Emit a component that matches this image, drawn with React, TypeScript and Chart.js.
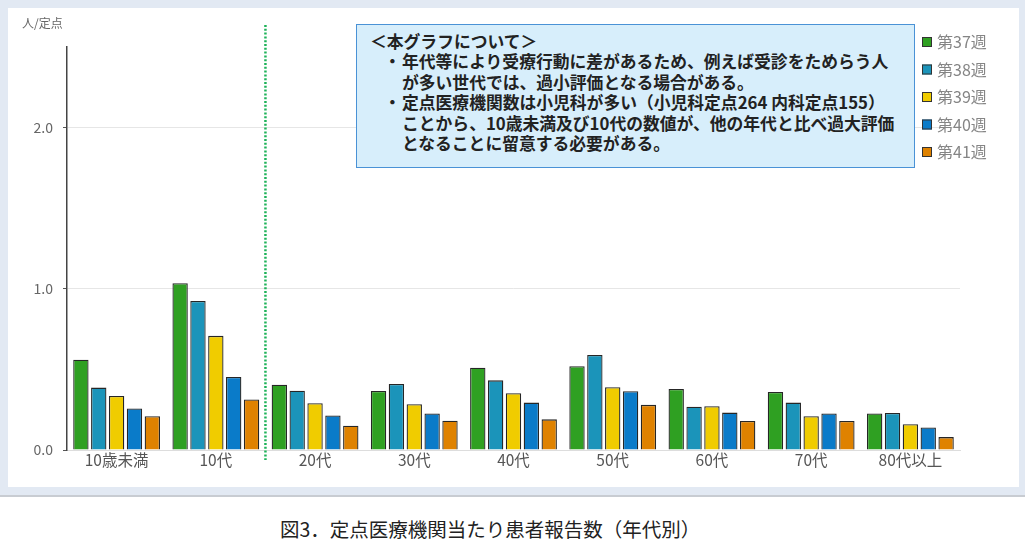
import { useEffect, useRef } from "react";
import { Chart, registerables, Plugin } from "chart.js";

Chart.register(...registerables);

document.body.style.margin = "0";

const FONT = "'Noto Sans CJK JP', 'Noto Sans', sans-serif";

const ageGroups = ["10歳未満", "10代", "20代", "30代", "40代", "50代", "60代", "70代", "80代以上"];
const weekLabels = ["第37週", "第38週", "第39週", "第40週", "第41週"];
const week37 = [0.56, 1.035, 0.405, 0.366, 0.51, 0.52, 0.378, 0.36, 0.226];
const week38 = [0.387, 0.924, 0.368, 0.41, 0.432, 0.59, 0.268, 0.294, 0.23];
const week39 = [0.335, 0.708, 0.29, 0.284, 0.352, 0.39, 0.272, 0.21, 0.16];
const week40 = [0.257, 0.453, 0.214, 0.226, 0.294, 0.365, 0.232, 0.226, 0.14];
const week41 = [0.21, 0.313, 0.15, 0.181, 0.19, 0.28, 0.18, 0.18, 0.08];
const weekColors = ["#2fa022", "#1b94ba", "#f0cc00", "#0a7bc9", "#df8200"];

const noteLines = [
  { bullet: false, text: "＜本グラフについて＞" },
  { bullet: true, text: "年代等により受療行動に差があるため、例えば受診をためらう人" },
  { bullet: false, text: "が多い世代では、過小評価となる場合がある。" },
  { bullet: true, text: "定点医療機関数は小児科が多い（小児科定点264 内科定点155）" },
  { bullet: false, text: "ことから、10歳未満及び10代の数値が、他の年代と比べ過大評価" },
  { bullet: false, text: "となることに留意する必要がある。" },
];

// dotted divider between 10代 and 20代, unit label and right-hand legend
const extrasPlugin: Plugin<"bar"> = {
  id: "extras",
  afterDraw(chart) {
    const { ctx } = chart;
    const x = chart.scales.x;
    const divX = (x.getPixelForValue(1) + x.getPixelForValue(2)) / 2;
    ctx.save();
    ctx.strokeStyle = "#1fb35a";
    ctx.lineWidth = 2.5;
    ctx.setLineDash([2, 1.8]);
    ctx.beginPath();
    ctx.moveTo(divX, 17);
    ctx.lineTo(divX, 452);
    ctx.stroke();
    ctx.setLineDash([]);

    ctx.fillStyle = "#666";
    ctx.font = `12px ${FONT}`;
    ctx.textBaseline = "middle";
    ctx.fillText("人/定点", 14, 15);

    ctx.font = `16px ${FONT}`;
    weekLabels.forEach((label, i) => {
      const cy = 34 + i * 27.5;
      ctx.fillStyle = weekColors[i];
      ctx.fillRect(914, cy - 5, 10, 10);
      ctx.strokeStyle = "#333";
      ctx.lineWidth = 1;
      ctx.strokeRect(914.5, cy - 4.5, 9, 9);
      ctx.fillStyle = "#858585";
      ctx.fillText(label, 929, cy);
    });
    ctx.restore();
  },
};

function BarChart() {
  const canvasRef = useRef<HTMLCanvasElement | null>(null);

  useEffect(() => {
    if (!canvasRef.current) return;
    const series = [week37, week38, week39, week40, week41];
    const chart = new Chart(canvasRef.current, {
      type: "bar",
      data: {
        labels: ageGroups,
        datasets: series.map((values, i) => ({
          label: weekLabels[i],
          data: values,
          backgroundColor: weekColors[i],
          borderColor: "#262626",
          borderWidth: 1.3,
          categoryPercentage: 0.9,
          barPercentage: 0.86,
        })),
      },
      options: {
        animation: false,
        responsive: true,
        maintainAspectRatio: false,
        layout: { padding: { top: 39, right: 59, left: 0, bottom: 0 } },
        plugins: { legend: { display: false }, tooltip: { enabled: false } },
        scales: {
          x: {
            grid: { display: false, drawTicks: false },
            border: { color: "#dddddd" },
            ticks: { color: "#555", font: { family: FONT, size: 15.5 }, padding: 1 },
            afterFit: (s) => {
              s.height = 37;
            },
          },
          y: {
            min: 0,
            max: 2.5,
            ticks: {
              stepSize: 1,
              color: "#666",
              padding: 10,
              font: { family: FONT, size: 14 },
              callback: (v) => Number(v).toFixed(1),
            },
            afterBuildTicks: (s) => {
              s.ticks = s.ticks.filter((t) => Number.isInteger(t.value));
            },
            grid: { color: "#e6e6e6", tickLength: 4, tickColor: "#555" },
            border: { color: "#444", width: 1.5 },
            afterFit: (s) => {
              s.width = 59;
            },
          },
        },
      },
      plugins: [extrasPlugin],
    });
    return () => chart.destroy();
  }, []);

  return <canvas ref={canvasRef} />;
}

export default function App() {
  return (
    <div style={{ position: "relative", width: 1025, height: 554, background: "#fff", fontFamily: FONT }}>
      <div
        style={{
          position: "absolute",
          left: 0,
          top: 0,
          width: 1025,
          height: 495,
          background: "#e2e9f3",
          borderBottom: "2px solid #c8ccd2",
        }}
      />
      <div style={{ position: "absolute", left: 8, top: 8, width: 1011, height: 479, background: "#fff" }}>
        <BarChart />
      </div>
      <div
        style={{
          position: "absolute",
          left: 356,
          top: 24,
          width: 559,
          height: 144,
          background: "#d7eefb",
          border: "1.5px solid #4a92d6",
          boxSizing: "border-box",
          color: "#222",
          fontWeight: 700,
          fontSize: 16.8,
          lineHeight: "20.4px",
          paddingTop: 6,
        }}
      >
        {noteLines.map((line, i) => (
          <div key={i} style={{ position: "relative", paddingLeft: i === 0 ? 13 : 45, whiteSpace: "nowrap" }}>
            {line.bullet && <span style={{ position: "absolute", left: 27 }}>・</span>}
            {line.text}
          </div>
        ))}
      </div>
      <div
        style={{
          position: "absolute",
          left: 280,
          top: 514,
          fontSize: 19.5,
          color: "#222",
          whiteSpace: "nowrap",
        }}
      >
        図3．定点医療機関当たり患者報告数（年代別）
      </div>
    </div>
  );
}
